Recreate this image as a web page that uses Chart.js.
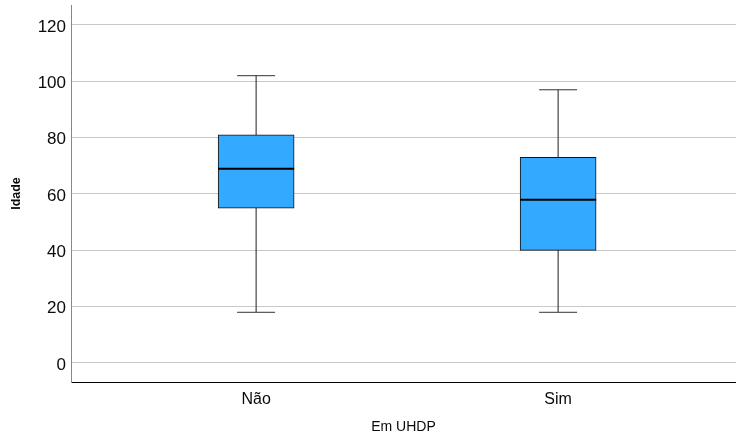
<!DOCTYPE html>
<html>
<head>
<meta charset="utf-8">
<script src="https://cdn.jsdelivr.net/npm/chart.js@4/dist/chart.umd.min.js"></script>
<style>
  html, body { margin: 0; padding: 0; background: #fff; }
  #wrap { width: 736px; height: 436px; }
</style>
</head>
<body>
<div id="wrap"><canvas id="c" width="736" height="436"></canvas></div>
<script>
// Age distribution (Idade) by UHDP group
const categories = ['Não', 'Sim'];
const whiskerLow = [18, 18];
const quartile1 = [55, 40];
const medians = [69, 58];
const quartile3 = [81, 73];
const whiskerHigh = [102, 97];
const yTicks = [0, 20, 40, 60, 80, 100, 120];

const FONT = "'Liberation Sans', Arial, sans-serif";
const positions = categories.map((_, i) => i + 1);

// Vertical whisker lines, min to max (hidden behind the box)
const whiskerSets = categories.map((_, i) => ({
  type: 'line',
  data: [{ x: positions[i], y: whiskerLow[i] }, { x: positions[i], y: whiskerHigh[i] }],
  borderColor: '#1e1e1e',
  borderWidth: 1,
  pointRadius: 0,
  fill: false,
  order: 5
}));

const datasets = [
  {
    type: 'scatter',
    label: 'Mediana',
    data: categories.map((_, i) => ({ x: positions[i], y: medians[i] })),
    pointStyle: 'line',
    radius: 38,
    borderColor: '#000',
    borderWidth: 2,
    order: 0
  },
  {
    type: 'bar',
    label: 'Caixa',
    data: categories.map((_, i) => ({ x: positions[i], y: [quartile1[i], quartile3[i]] })),
    backgroundColor: '#33aaff',
    borderColor: '#111',
    borderWidth: 1,
    borderSkipped: false,
    barThickness: 76,
    grouped: false,
    order: 2
  },
  {
    type: 'scatter',
    label: 'Limites',
    data: categories.flatMap((_, i) => [
      { x: positions[i], y: whiskerLow[i] },
      { x: positions[i], y: whiskerHigh[i] }
    ]),
    pointStyle: 'line',
    radius: 19,
    borderColor: '#333',
    borderWidth: 1,
    order: 3
  },
  ...whiskerSets
];

new Chart(document.getElementById('c'), {
  type: 'bar',
  data: { datasets },
  options: {
    responsive: false,
    animation: false,
    events: [],
    layout: { autoPadding: false, padding: { top: 5, left: 0, right: 0, bottom: 0 } },
    plugins: { legend: { display: false }, tooltip: { enabled: false } },
    scales: {
      x: {
        type: 'linear',
        min: 0.387,
        max: 2.589,
        offset: false,
        afterBuildTicks: (scale) => { scale.ticks = positions.map(v => ({ value: v })); },
        afterFit: (scale) => {
          scale.height = 54;
          scale.paddingLeft = 0;
          scale.paddingRight = 0;
        },
        ticks: {
          callback: (v) => categories[positions.indexOf(v)] ?? '',
          font: { family: FONT, size: 16 },
          color: '#0a0a0a',
          padding: 8,
          maxRotation: 0,
          autoSkip: false
        },
        grid: { display: false, drawTicks: false },
        border: { display: true, color: '#000', width: 1 },
        title: {
          display: true,
          text: 'Em UHDP',
          font: { family: FONT, size: 14 },
          color: '#0a0a0a',
          padding: { top: 6, bottom: 0 }
        }
      },
      y: {
        type: 'linear',
        min: -6.75,
        max: 127.1,
        afterBuildTicks: (scale) => { scale.ticks = yTicks.map(v => ({ value: v })); },
        afterFit: (scale) => {
          scale.width = 71;
          scale.paddingTop = 0;
          scale.paddingBottom = 0;
        },
        ticks: {
          font: { family: FONT, size: 17 },
          color: '#0a0a0a',
          padding: 5,
          labelOffset: 2
        },
        grid: { color: '#c8c8c8', lineWidth: 1, drawTicks: false },
        border: { display: true, color: '#888', width: 1 },
        title: {
          display: true,
          text: 'Idade',
          font: { family: FONT, size: 12.5, weight: 'bold' },
          color: '#0a0a0a',
          padding: { top: 9, bottom: 0 }
        }
      }
    }
  }
});
</script>
</body>
</html>
